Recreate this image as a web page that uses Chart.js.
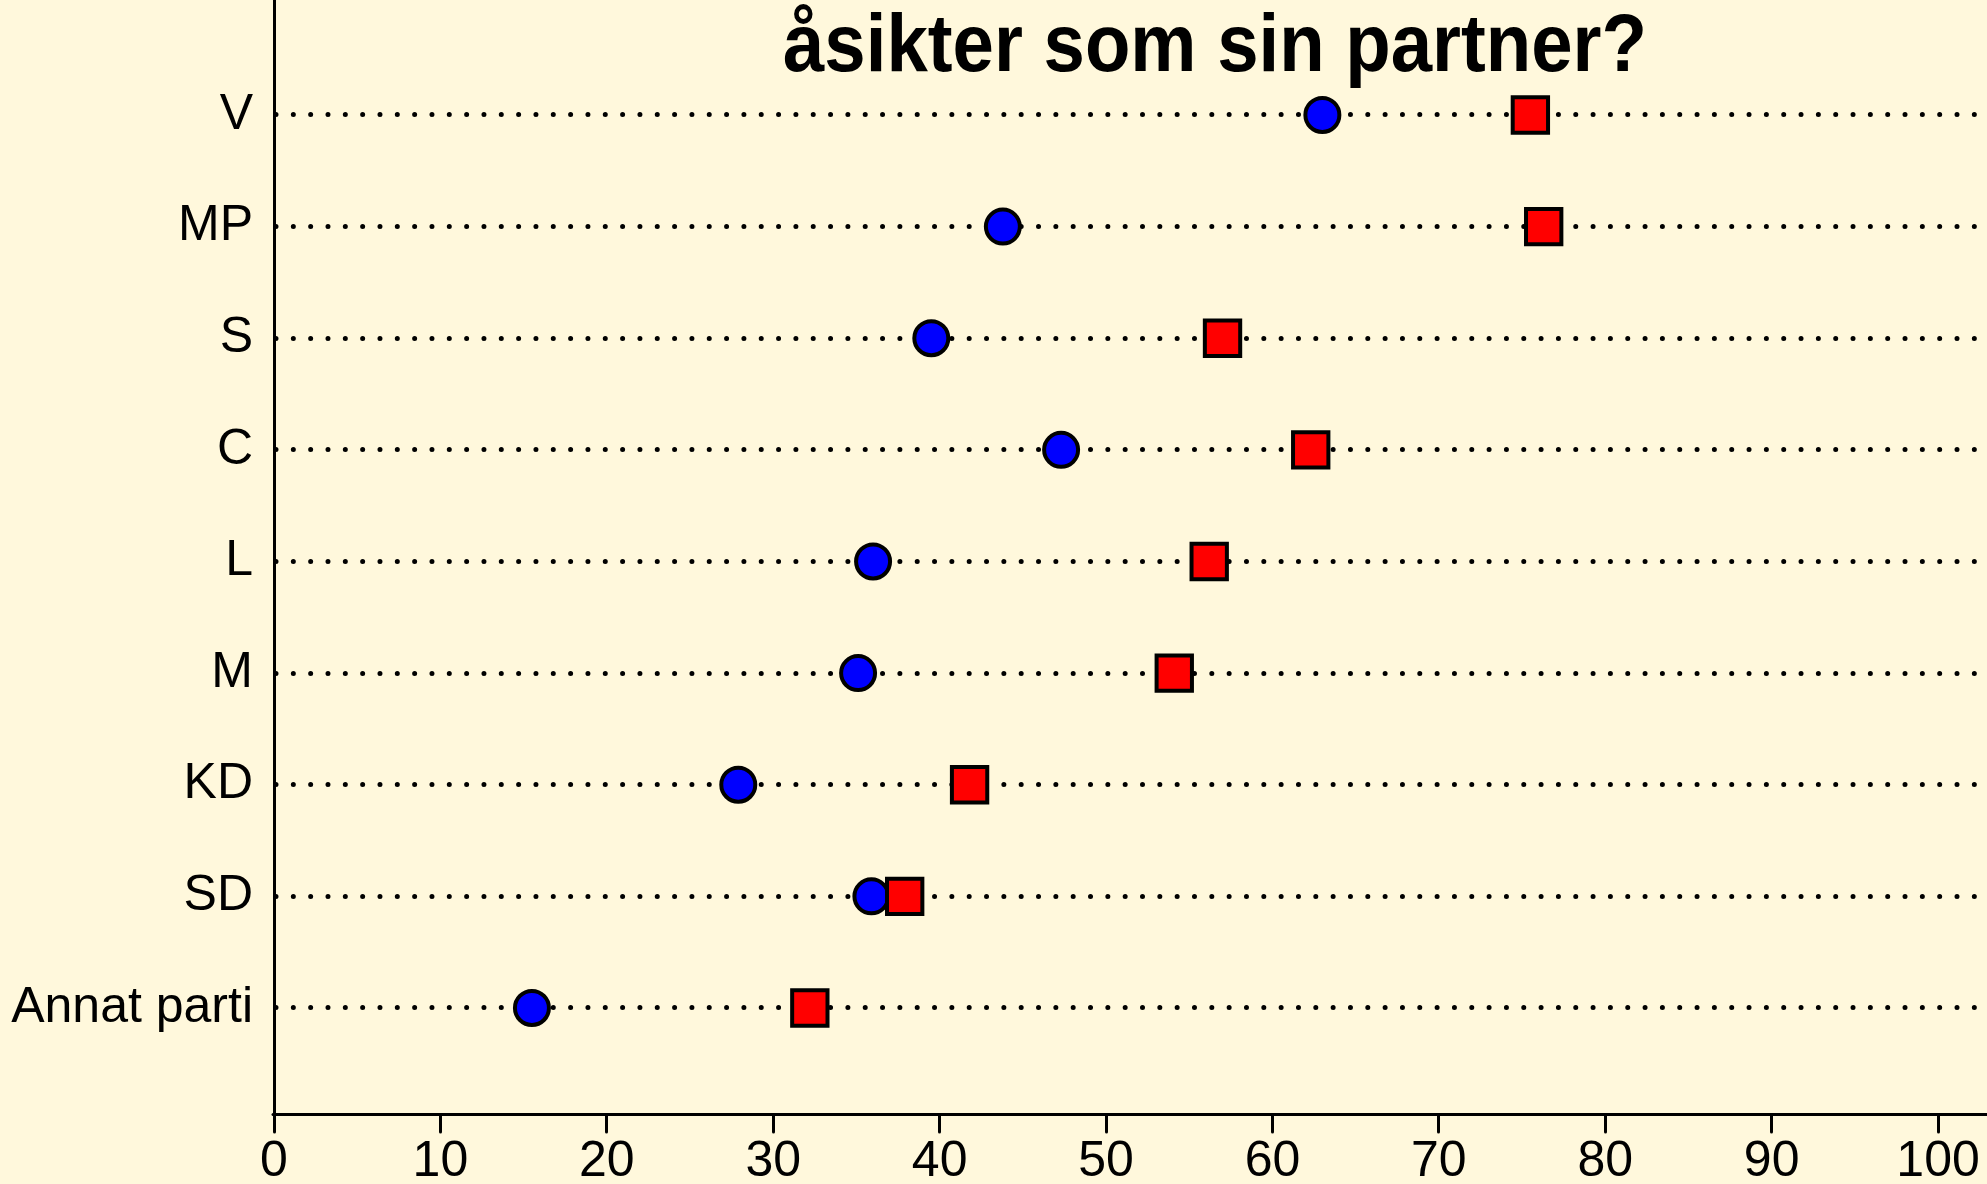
<!DOCTYPE html>
<html>
<head>
<meta charset="utf-8">
<script src="https://cdn.jsdelivr.net/npm/chart.js@4.4.1/dist/chart.umd.min.js"></script>
<style>
  html, body { margin: 0; padding: 0; background: #FFF8DC; }
  #canva { display: block; }
</style>
</head>
<body>
<canvas id="canva" width="1987" height="1184"></canvas>
<script>
// parties, top to bottom
const partier = ["V", "MP", "S", "C", "L", "M", "KD", "SD", "Annat parti"];
// blue circles and red squares (percent)
const blaValues = [63.0, 43.8, 39.5, 47.3, 36.0, 35.1, 27.9, 35.9, 15.5];
const rodaValues = [75.5, 76.3, 57.0, 62.3, 56.2, 54.1, 41.8, 37.9, 32.2];
const xTicks = [0, 10, 20, 30, 40, 50, 60, 70, 80, 90, 100];
const titel = "åsikter som sin partner?";

const font = "'Liberation Sans', Arial, sans-serif";
// row position: first party at the top
const rowPos = (i) => partier.length - i;
const yTicks = partier.map((p, i) => rowPos(i));

const toPoints = (vals) => vals.map((v, i) => ({ x: v, y: rowPos(i) }));

const bgPlugin = {
  id: "bg",
  beforeDraw(chart) {
    const c = chart.ctx;
    c.save();
    c.fillStyle = "#FFF8DC";
    c.fillRect(0, 0, chart.width, chart.height);
    c.restore();
    // round caps so the dashed grid lines become dots
    c.lineCap = "round";
  },
  afterDraw(chart) {
    const c = chart.ctx;
    c.save();
    c.font = "bold 82px " + font;
    c.fillStyle = "#000";
    c.textBaseline = "alphabetic";
    c.textAlign = "center";
    const w = c.measureText(titel).width;
    const sx = 864 / w;
    c.translate(1215, 71);
    c.scale(sx, 1);
    c.fillText(titel, 0, 0);
    c.restore();
  },
};

const ctx = document.getElementById("canva");
new Chart(ctx, {
  type: "scatter",
  data: {
    datasets: [
      {
        label: "röd",
        data: toPoints(rodaValues),
        pointStyle: "rect",
        pointRadius: 25,
        pointHoverRadius: 25,
        backgroundColor: "#FF0000",
        borderColor: "#000000",
        borderWidth: 4,
        pointHoverBorderWidth: 4,
        clip: false,
      },
      {
        label: "blå",
        data: toPoints(blaValues),
        pointStyle: "circle",
        pointRadius: 17,
        pointHoverRadius: 17,
        backgroundColor: "#0000FF",
        borderColor: "#000000",
        borderWidth: 4,
        pointHoverBorderWidth: 4,
        clip: false,
      },
    ],
  },
  options: {
    responsive: false,
    animation: false,
    layout: { padding: 0, autoPadding: false },
    scales: {
      x: {
        type: "linear",
        min: 0,
        max: 102.94,
        afterBuildTicks: (s) => {
          s.ticks = xTicks.map((v) => ({ value: v }));
        },
        afterFit: (s) => {
          s.height = 70;
          s.paddingLeft = 0;
          s.paddingRight = 0;
        },
        ticks: {
          color: "#000",
          font: { family: font, size: 50 },
          padding: 0,
          maxRotation: 0,
          autoSkip: false,
        },
        grid: {
          display: true,
          drawOnChartArea: false,
          drawTicks: true,
          tickLength: 18,
          tickWidth: 3,
          tickColor: "#000",
        },
        border: { display: true, color: "#000", width: 3 },
      },
      y: {
        type: "linear",
        min: 0.05,
        max: 10.03,
        afterBuildTicks: (s) => {
          s.ticks = yTicks.map((v) => ({ value: v }));
        },
        afterFit: (s) => {
          s.width = 274;
          s.paddingTop = 0;
          s.paddingBottom = 0;
        },
        ticks: {
          color: "#000",
          font: { family: font, size: 50 },
          padding: 21,
          autoSkip: false,
          callback: (v) => partier[partier.length - v],
        },
        grid: {
          display: true,
          drawOnChartArea: true,
          drawTicks: false,
          color: "#000",
          lineWidth: 5,
        },
        border: { display: true, color: "#000", width: 3, dash: [0, 17.33] },
      },
    },
    plugins: {
      legend: { display: false },
      tooltip: { enabled: false },
    },
  },
  plugins: [bgPlugin],
});
</script>
</body>
</html>
